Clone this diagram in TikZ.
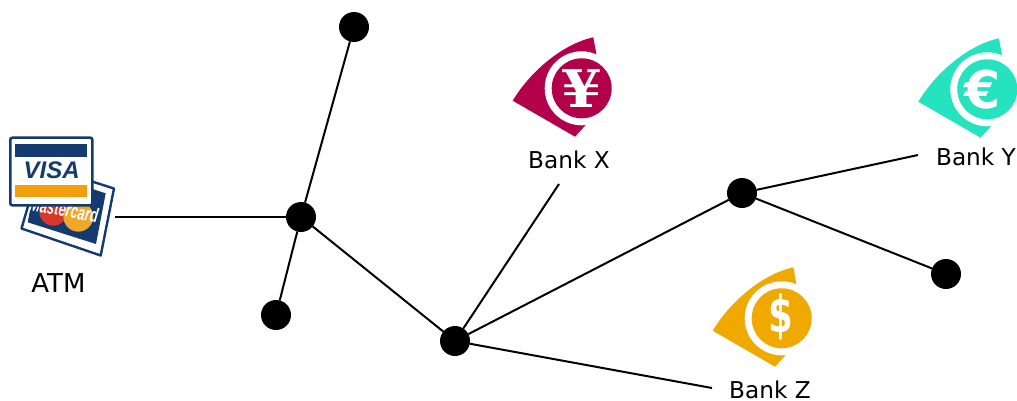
\documentclass[tikz,border=0pt]{standalone}
\usepackage{fontspec}
\setmainfont{DejaVu Sans}
\newfontfamily\symfont{DejaVu Sans Bold}
\newfontfamily\yenfont{DejaVu Serif Bold}
\newfontfamily\visafont{Liberation Sans}
\definecolor{bankx}{HTML}{B2004A}
\definecolor{banky}{HTML}{26E3BF}
\definecolor{bankz}{HTML}{F0A900}
\definecolor{navy}{HTML}{153A70}
\definecolor{visaorange}{HTML}{F59E0B}
\definecolor{mcred}{HTML}{D8372B}
\definecolor{mcorange}{HTML}{EFA92A}
\tikzset{
  hubdot/.style={circle,fill=black,draw=none,minimum size=22.5pt,inner sep=0pt,outer sep=0pt},
  conn/.style={line width=1.5pt,black},
  lab/.style={font=\fontsize{17.4pt}{20pt}\selectfont,inner sep=0pt,text=black},
  sym/.style={text=white,inner sep=0pt},
}
% x, y, colour, symbol, symbol-centre offset, node options
\newcommand{\banklogo}[6]{%
  \begin{scope}[shift={(#1,#2)}]
    \fill[#3] (11.6,-51) .. controls (-20,-44) and (-52,-16) .. (-69,12.4) -- (-6.7,48.4) -- (4,36.7) -- (15,-32.6) -- cycle;
    \fill[white] (0,0) circle[radius=27.75pt];
    \fill[#3] (0,0) circle[radius=22.5pt];
    \node[sym,#6] at (#5) {#4};
  \end{scope}}
\begin{document}
\begin{tikzpicture}[x=.75pt,y=-.75pt]
\useasboundingbox (0,0) rectangle (1017,400);
\clip (0,0) rectangle (1017,400);
% cards
\begin{scope}
  \filldraw[navy,line width=1.8pt,fill=white,line join=round] (40,165) -- (114,188.5) -- (100.7,255.5) -- (21.5,228.5) -- cycle;
  \fill[navy] (37.5,171) -- (105.7,193.3) -- (96,244) -- (27.7,222.3) -- cycle;
  \fill[mcred] (53.3,211.7) circle[radius=10.5pt];
  \fill[mcorange] (78.3,216.7) circle[radius=11.2pt];
  \node[text=white,rotate=-10,xscale=.65,font=\visafont\bfseries\itshape\fontsize{15pt}{15pt}\selectfont,inner sep=0pt] at (64,209.5) {Mastercard};
  \filldraw[navy,line width=1.9pt,fill=white,rounded corners=1.5pt] (10.3,137.7) rectangle (92.3,205.3);
  \fill[navy] (15,144) rectangle (87.3,156.7);
  \fill[visaorange] (15,185) rectangle (87.3,197.3);
  \node[text=navy,font=\visafont\bfseries\itshape\fontsize{18pt}{18pt}\selectfont,inner sep=0pt] at (51.7,170.6) {VISA};
\end{scope}
\banklogo{581.7}{88.3}{bankx}{¥}{0,0}{font=\yenfont\fontsize{39pt}{39pt}\selectfont,xscale=1.12}
\banklogo{987.3}{89.3}{banky}{€}{-4.5,0}{font=\symfont\fontsize{39pt}{39pt}\selectfont}
\banklogo{781.7}{318.3}{bankz}{\$}{-1,-1}{font=\symfont\fontsize{38pt}{38pt}\selectfont,xscale=.7}
% labels
\node[lab,font=\fontsize{19.5pt}{20pt}\selectfont] (atm) at (58.5,283) {ATM};
\node[lab] (bankX) at (569,160) {Bank X};
\node[lab] (bankY) at (976,157) {Bank Y};
\node[lab] (bankZ) at (770,389.5) {Bank Z};
% dots
\node[hubdot] (top) at (354,27) {};
\node[hubdot] (hub) at (301,217) {};
\node[hubdot] (low) at (276,315) {};
\node[hubdot] (mid) at (455,341) {};
\node[hubdot] (rgt) at (742,193) {};
\node[hubdot] (far) at (946,274) {};
% free ends
\coordinate (eAtm) at (115,217);
\coordinate (eX) at (559,184);
\coordinate (eY) at (918,155);
\coordinate (eZ) at (712,388);
\draw[conn] (eAtm) -- (hub);
\draw[conn] (top) -- (hub);
\draw[conn] (hub) -- (low);
\draw[conn] (hub) -- (mid);
\draw[conn] (mid) -- (eX);
\draw[conn] (mid) -- (rgt);
\draw[conn] (mid) -- (eZ);
\draw[conn] (rgt) -- (eY);
\draw[conn] (rgt) -- (far);
\end{tikzpicture}
\end{document}
